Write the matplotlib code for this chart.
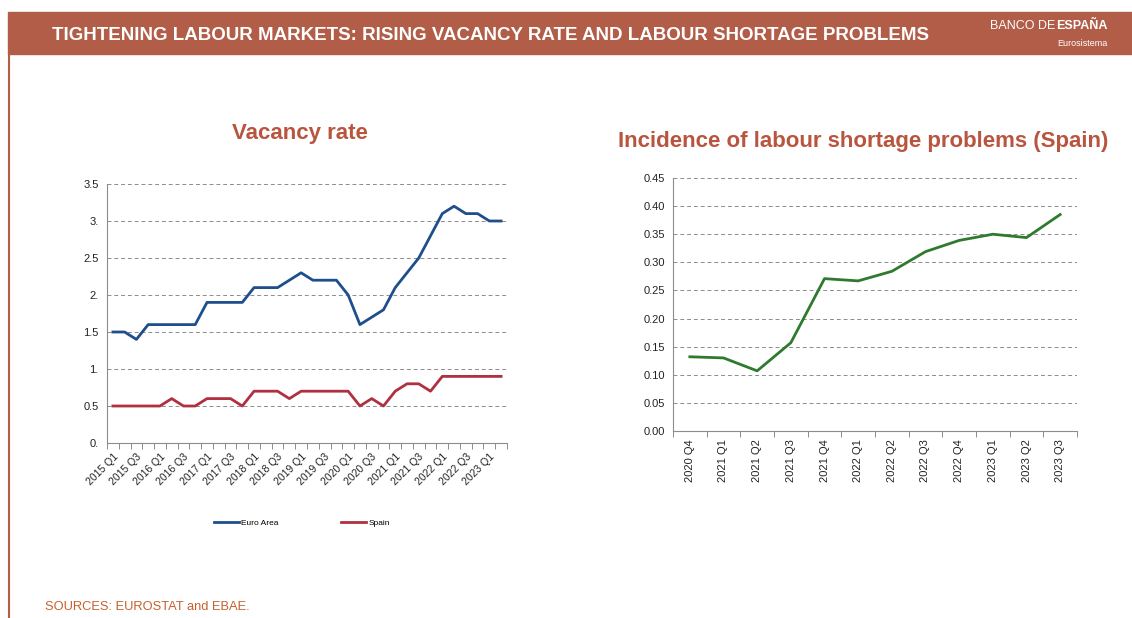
import matplotlib.pyplot as plt
from matplotlib.patches import Rectangle
from matplotlib.lines import Line2D
import numpy as np

plt.rcParams['font.family'] = ['Liberation Sans', 'DejaVu Sans']

# vacancy rate, 2015 Q1 - 2023 Q2
quarters = [f"{y} Q{q}" for y in range(2015, 2024) for q in range(1, 5)][:34]
euro_area = [1.5, 1.5, 1.4, 1.6, 1.6, 1.6, 1.6, 1.6, 1.9, 1.9, 1.9, 1.9,
             2.1, 2.1, 2.1, 2.2, 2.3, 2.2, 2.2, 2.2, 2.0, 1.6, 1.7, 1.8,
             2.1, 2.3, 2.5, 2.8, 3.1, 3.2, 3.1, 3.1, 3.0, 3.0]
spain = [0.5, 0.5, 0.5, 0.5, 0.5, 0.6, 0.5, 0.5, 0.6, 0.6, 0.6, 0.5,
         0.7, 0.7, 0.7, 0.6, 0.7, 0.7, 0.7, 0.7, 0.7, 0.5, 0.6, 0.5,
         0.7, 0.8, 0.8, 0.7, 0.9, 0.9, 0.9, 0.9, 0.9, 0.9]
left_yticks = [0, 0.5, 1, 1.5, 2, 2.5, 3, 3.5]
left_ylabels = ["0.", "0.5", "1.", "1.5", "2.", "2.5", "3.", "3.5"]

# labour shortage incidence (Spain)
shortage_q = ["2020 Q4", "2021 Q1", "2021 Q2", "2021 Q3", "2021 Q4", "2022 Q1",
              "2022 Q2", "2022 Q3", "2022 Q4", "2023 Q1", "2023 Q2", "2023 Q3"]
shortage = [0.132, 0.130, 0.107, 0.157, 0.271, 0.267, 0.284, 0.319, 0.339,
            0.350, 0.344, 0.385]

W, H = 1132, 618
fig = plt.figure(figsize=(W / 100, H / 100), dpi=100)

brick = '#B25D48'
title_col = '#B9553F'
grid_col = '#8C8C8C'
spine_col = '#8C8C8C'

def fx(px):
    return px / W

def fy(py):
    return 1 - py / H

# header bar + left border
fig.patches.append(Rectangle((fx(8), fy(54)), 1 - fx(8), fy(12) - fy(54),
                             transform=fig.transFigure, color=brick, zorder=0))
fig.add_artist(Line2D([fx(8.5), fx(8.5)], [fy(54), 0], transform=fig.transFigure,
                      color=brick, lw=1.5))
fig.text(fx(52), fy(35), "TIGHTENING LABOUR MARKETS: RISING VACANCY RATE AND LABOUR SHORTAGE PROBLEMS",
         color='white', fontsize=13.5, fontweight='bold', va='center', ha='left')
fig.text(fx(1055), fy(26), "BANCO DE", color='white', fontsize=9, ha='right', va='center')
fig.text(fx(1056), fy(26), "ESPAÑA", color='white', fontsize=9, fontweight='bold', ha='left', va='center')
fig.text(fx(1108), fy(43), "Eurosistema", color='white', fontsize=6.5, ha='right', va='center')

fig.text(fx(45), fy(607), "SOURCES: EUROSTAT and EBAE.", color='#C8602E', fontsize=9.3,
         ha='left', va='center')

# chart titles
fig.text(fx(300), fy(133), "Vacancy rate", color=title_col, fontsize=16,
         fontweight='bold', ha='center', va='center')
fig.text(fx(863), fy(141), "Incidence of labour shortage problems (Spain)", color=title_col,
         fontsize=16, fontweight='bold', ha='center', va='center')


def style_axes(ax):
    for s in ['top', 'right']:
        ax.spines[s].set_visible(False)
    for s in ['left', 'bottom']:
        ax.spines[s].set_color(spine_col)
        ax.spines[s].set_linewidth(0.8)
    ax.yaxis.grid(True, linestyle=(0, (4, 3)), color=grid_col, linewidth=0.7)
    ax.set_axisbelow(True)
    ax.tick_params(axis='y', length=0, labelsize=8, pad=6, colors='#222222')


# left: vacancy rate
ax1 = fig.add_axes([fx(107), fy(443), fx(507) - fx(107), fy(184) - fy(443)])
x1 = np.arange(len(quarters))
ax1.plot(x1, euro_area, color='#1F4E8C', lw=2.0, label='Euro Area')
ax1.plot(x1, spain, color='#B0303F', lw=2.0, label='Spain')
ax1.set_xlim(-0.5, len(quarters) - 0.5)
ax1.set_ylim(0, 3.5)
style_axes(ax1)
ax1.set_yticks(left_yticks)
ax1.set_yticklabels(left_ylabels)
ax1.set_xticks(np.arange(-0.5, len(quarters), 1), minor=True)
ax1.set_xticks(x1[::2])
ax1.set_xticklabels(quarters[::2], rotation=45, ha='right', rotation_mode='anchor',
                    fontsize=7.5)
ax1.tick_params(axis='x', which='major', length=0, pad=6, colors='#222222')
ax1.tick_params(axis='x', which='minor', length=4, color=spine_col, width=0.7)
ax1.legend(loc='center', bbox_to_anchor=(fx(302), fy(523)), bbox_transform=fig.transFigure,
           ncol=2, frameon=False, fontsize=6, handlelength=3.0, handletextpad=0.3,
           columnspacing=7.5)

# right: labour shortage
ax2 = fig.add_axes([fx(673), fy(431), fx(1077) - fx(673), fy(178) - fy(431)])
x2 = np.arange(len(shortage_q))
ax2.plot(x2, shortage, color='#2E7A2E', lw=2.0)
ax2.set_xlim(-0.5, len(shortage_q) - 0.5)
ax2.set_ylim(0, 0.45)
style_axes(ax2)
ax2.set_yticks(np.arange(0, 0.46, 0.05))
ax2.set_yticklabels([f"{v:.2f}" for v in np.arange(0, 0.46, 0.05)])
ax2.set_xticks(np.arange(-0.5, len(shortage_q), 1), minor=True)
ax2.set_xticks(x2)
ax2.set_xticklabels(shortage_q, rotation=90, fontsize=8)
ax2.tick_params(axis='x', which='major', length=0, pad=6, colors='#222222')
ax2.tick_params(axis='x', which='minor', length=4, color=spine_col, width=0.7)

plt.savefig('out.png', dpi=100)
